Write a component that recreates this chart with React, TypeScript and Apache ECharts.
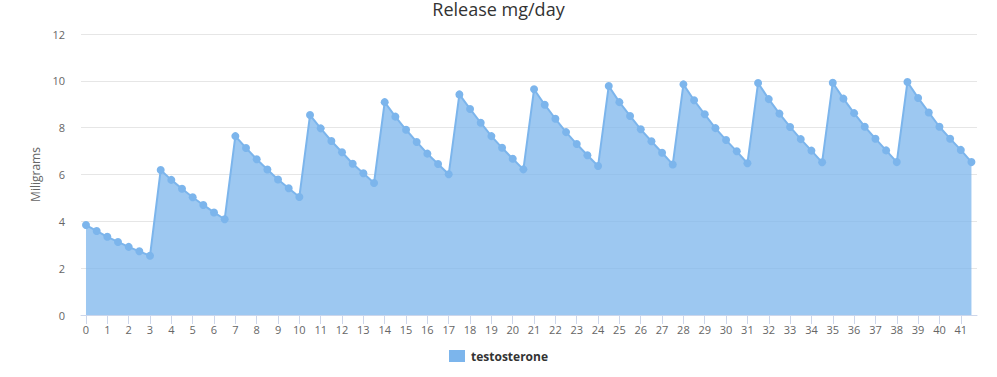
import React, { useEffect, useRef } from "react";
import * as echarts from "echarts";

const days = [
  0, 0.5, 1, 1.5, 2, 2.5, 3, 3.5, 4, 4.5, 5, 5.5, 6, 6.5, 7, 7.5, 8, 8.5, 9, 9.5,
  10, 10.5, 11, 11.5, 12, 12.5, 13, 13.5, 14, 14.5, 15, 15.5, 16, 16.5, 17, 17.5,
  18, 18.5, 19, 19.5, 20, 20.5, 21, 21.5, 22, 22.5, 23, 23.5, 24, 24.5, 25, 25.5,
  26, 26.5, 27, 27.5, 28, 28.5, 29, 29.5, 30, 30.5, 31, 31.5, 32, 32.5, 33, 33.5,
  34, 34.5, 35, 35.5, 36, 36.5, 37, 37.5, 38, 38.5, 39, 39.5, 40, 40.5, 41, 41.5,
];

const testosterone = [
  3.84, 3.59, 3.34, 3.12, 2.91, 2.72, 2.53,
  6.19, 5.77, 5.39, 5.03, 4.7, 4.38, 4.09,
  7.64, 7.13, 6.65, 6.21, 5.79, 5.41, 5.04,
  8.54, 7.97, 7.43, 6.95, 6.46, 6.05, 5.64,
  9.09, 8.47, 7.91, 7.39, 6.89, 6.45, 6.01,
  9.42, 8.8, 8.21, 7.64, 7.14, 6.67, 6.22,
  9.64, 8.98, 8.38, 7.81, 7.3, 6.82, 6.36,
  9.78, 9.09, 8.5, 7.93, 7.42, 6.93, 6.43,
  9.85, 9.17, 8.57, 7.98, 7.47, 6.99, 6.48,
  9.91, 9.22, 8.6, 8.03, 7.51, 7.02, 6.52,
  9.92, 9.24, 8.62, 8.04, 7.53, 7.03, 6.53,
  9.95, 9.27, 8.65, 8.04, 7.53, 7.05, 6.53,
];

const xTicks = [
  0, 1, 2, 3, 4, 5, 6, 7, 8, 9, 10, 11, 12, 13, 14, 15, 16, 17, 18, 19, 20,
  21, 22, 23, 24, 25, 26, 27, 28, 29, 30, 31, 32, 33, 34, 35, 36, 37, 38, 39, 40, 41,
];

const titleText = "Release mg/day";
const seriesName = "testosterone";
const yAxisName = "Miligrams";

const FONT = "'Open Sans', 'Noto Sans', sans-serif";

export default function App() {
  const ref = useRef<HTMLDivElement>(null);

  useEffect(() => {
    document.body.style.margin = "0";
    if (!ref.current) return;
    const chart = echarts.init(ref.current, undefined, { renderer: "svg" });
    const data = days.map((d, i) => [d, testosterone[i]]);
    chart.setOption({
      animation: false,
      textStyle: { fontFamily: FONT },
      title: {
        text: titleText,
        left: "center",
        top: 0,
        padding: 0,
        textStyle: { fontFamily: FONT, fontSize: 18, fontWeight: "normal", color: "#333333" },
      },
      legend: {
        bottom: 10,
        left: "center",
        icon: "rect",
        itemWidth: 16,
        itemHeight: 12,
        itemGap: 20,
        textStyle: { fontFamily: FONT, fontSize: 12, fontWeight: "bold", color: "#333333", padding: [0, 0, 0, 1] },
        data: [{ name: seriesName, itemStyle: { color: "#7cb5ec", opacity: 1 } }],
      },
      grid: { left: 81, right: 20, top: 34, bottom: 62, containLabel: false },
      xAxis: {
        type: "value",
        min: -0.234,
        max: 41.76,
        splitLine: { show: false },
        axisLine: { show: true, lineStyle: { color: "#ccd6eb", width: 1 } },
        axisTick: { show: true, length: 9, lineStyle: { color: "#ccd6eb" }, customValues: xTicks },
        axisLabel: {
          color: "#666666",
          fontSize: 11,
          fontFamily: FONT,
          margin: 9,
          customValues: xTicks,
        },
      },
      yAxis: {
        type: "value",
        min: 0,
        max: 12,
        interval: 2,
        name: yAxisName,
        nameLocation: "middle",
        nameGap: 37,
        nameTextStyle: { color: "#666666", fontSize: 12, fontFamily: FONT },
        axisLine: { show: false },
        axisTick: { show: false },
        axisLabel: { color: "#666666", fontSize: 11, fontFamily: FONT, margin: 16 },
        splitLine: { lineStyle: { color: "#e6e6e6", width: 1 } },
      },
      series: [
        {
          name: seriesName,
          type: "line",
          data,
          color: "#7cb5ec",
          lineStyle: { width: 2, color: "#7cb5ec" },
          itemStyle: { color: "#7cb5ec" },
          areaStyle: { color: "#7cb5ec", opacity: 0.75 },
          symbol: "circle",
          symbolSize: 8,
          showSymbol: true,
          showAllSymbol: true,
        },
      ],
    });
    return () => chart.dispose();
  }, []);

  return <div ref={ref} style={{ width: 997, height: 377 }} />;
}
